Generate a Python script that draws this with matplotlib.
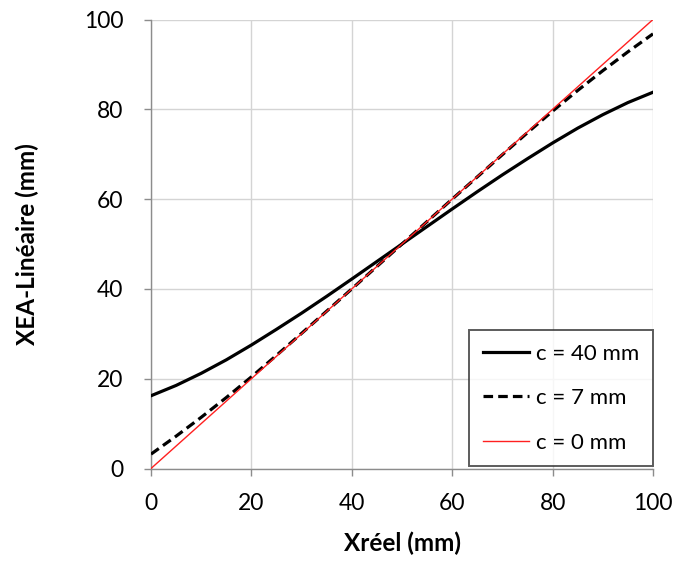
import matplotlib
matplotlib.use("Agg")
import matplotlib.pyplot as plt

x_real = [0, 5, 10, 15, 20, 25, 30, 35, 40, 45, 50, 55, 60, 65, 70, 75, 80, 85, 90, 95, 100]
y_c40 = [16.2, 18.5, 21.2, 24.2, 27.5, 31.0, 34.6, 38.35, 42.2, 46.1, 50.0, 53.9, 57.8, 61.65, 65.4, 69.0, 72.5, 75.8, 78.8, 81.5, 83.8]
y_c7 = [3.2, 7.2, 11.4, 15.8, 20.4, 25.2, 30.1, 35.05, 40.0, 45.0, 50.0, 55.0, 60.0, 64.95, 69.9, 74.8, 79.6, 84.2, 88.6, 92.8, 96.8]
y_c0 = [0, 100]
x_c0 = [0, 100]
labels = ["c = 40 mm", "c = 7 mm", "c = 0 mm"]
ticks = [0, 20, 40, 60, 80, 100]

plt.rcParams['font.family'] = ['Lato', 'DejaVu Sans']

fig = plt.figure(figsize=(6.75, 5.61), dpi=100)
ax = fig.add_axes([151/675, 1 - 468.5/561, 502/675, 449/561])

ax.plot(x_real, y_c40, color='black', lw=2.3, label=labels[0], zorder=3)
ax.plot(x_real, y_c7, color='black', lw=2.3, ls=(0, (3, 1.6)), label=labels[1], zorder=3)
ax.plot(x_c0, y_c0, color='#ff2020', lw=1.0, label=labels[2], zorder=4)

ax.set_xlim(0, 100)
ax.set_ylim(0, 100)
ax.set_xticks(ticks)
ax.set_yticks(ticks)
ax.grid(True, color='#d4d4d4', lw=1.0)
ax.set_axisbelow(True)
for s in ['top', 'right']:
    ax.spines[s].set_visible(False)
for s in ['left', 'bottom']:
    ax.spines[s].set_color('#8c8c8c')
    ax.spines[s].set_linewidth(1.0)
ax.tick_params(axis='both', colors='#8c8c8c', labelcolor='black', labelsize=16.5, width=1.0)
ax.tick_params(axis='x', length=5, direction='out', pad=13)
ax.tick_params(axis='y', length=5, direction='out', pad=15)

ax.set_xlabel('Xréel (mm)', fontsize=17.5, fontweight='bold')
ax.set_ylabel('XEA-Linéaire (mm)', fontsize=17.5, fontweight='bold')
ax.xaxis.set_label_coords(0.5, -(532 - 468.5) / 449)
ax.yaxis.set_label_coords((39 - 151) / 502, 0.5)

leg = ax.legend(loc='lower right', bbox_to_anchor=(1.0, 2.5 / 449), fontsize=16,
                frameon=True, fancybox=False, edgecolor='#333333', borderaxespad=0.0,
                handlelength=2.1, handletextpad=0.32, labelspacing=1.1, borderpad=0.6)
leg.get_frame().set_linewidth(1.4)

fig.savefig('out.png', dpi=100)
